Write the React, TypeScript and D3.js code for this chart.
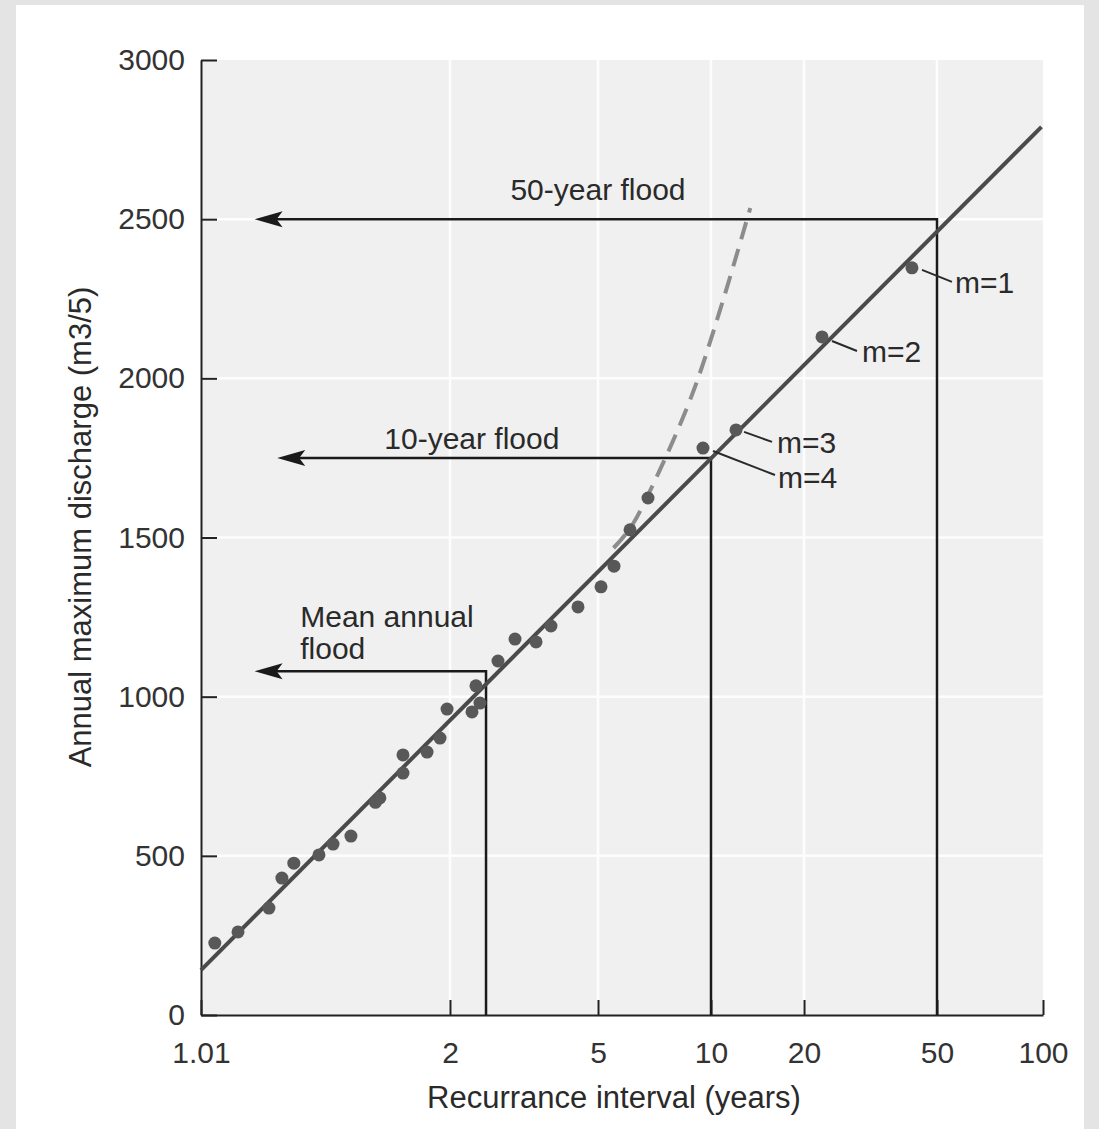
import { useEffect, useRef } from "react";
import * as d3 from "d3";

// probability-paper ticks (recurrence interval, years)
const xTicks = [1.01, 2, 5, 10, 20, 50, 100];
const xTickLabels = ["1.01", "2", "5", "10", "20", "50", "100"];
// the printed paper is hand ruled: where each tick falls along the axis (0..1)
const paperStops = [0, 0.2957, 0.4715, 0.6057, 0.7162, 0.8741, 1];
const yTicks = [0, 500, 1000, 1500, 2000, 2500, 3000];

// annual peak series: recurrence interval (yr) and discharge
const peakT = [
  1.049, 1.118, 1.217, 1.261, 1.303, 1.396, 1.451, 1.524, 1.63, 1.65, 1.758, 1.758, 1.878, 1.946, 1.984,
  2.292, 2.408, 2.349, 2.692, 2.991, 3.407, 3.737, 4.418, 5.093, 5.515, 6.085, 6.795, 9.52, 12.05, 22.64,
  42.08,
];
const peakQ = [
  226, 261, 336, 430, 477, 503, 537, 562, 668, 682, 760, 817, 826, 870, 961, 952, 980, 1034, 1112, 1181,
  1172, 1222, 1282, 1345, 1410, 1524, 1624, 1781, 1838, 2130, 2347,
];

// fitted frequency line
const fitT = [1.01, 99];
const fitQ = [141, 2790];

// steeper dashed trend
const dashT = [5.5, 6.1, 7.0, 8.9, 10.7, 13.4];
const dashQ = [1467, 1530, 1665, 1948, 2215, 2535];

// flood read-offs
const floodLabels = ["50-year flood", "10-year flood", "Mean annual\nflood"];
const floodT = [50, 10, 2.5];
const floodQ = [2500, 1750, 1080];
const floodTipT = [1.17, 1.245, 1.17];
const floodLabelT = [5, 2.29, 1.326];

// rank labels for the largest peaks
const rankLabels = [1, 2, 3, 4];

const font = "'Liberation Sans', Arial, Helvetica, sans-serif";

export default function App() {
  const ref = useRef<SVGSVGElement>(null);

  useEffect(() => {
    if (!ref.current) return;
    const w = 1099,
      h = 1129,
      plot = { left: 201, right: 1043, top: 60, bottom: 1015 };

    const svg = d3.select(ref.current);
    svg.selectAll("*").remove();
    svg.attr("width", w).attr("height", h).attr("viewBox", `0 0 ${w} ${h}`);

    svg.append("rect").attr("width", w).attr("height", h).attr("fill", "#e4e4e4");
    svg.append("rect").attr("x", 16).attr("y", 5).attr("width", 1068).attr("height", 1124).attr("fill", "#fff");

    const xl = d3
      .scaleLinear()
      .domain(xTicks.map(Math.log10))
      .range(paperStops.map((f) => plot.left + f * (plot.right - plot.left)));
    const x = (t: number) => xl(Math.log10(t));
    const y = d3.scaleLinear().domain([0, 3000]).range([plot.bottom, plot.top]);

    // tinted paper + white ruling
    svg
      .append("rect")
      .attr("x", plot.left)
      .attr("y", plot.top)
      .attr("width", plot.right - plot.left)
      .attr("height", plot.bottom - plot.top)
      .attr("fill", "#f0f0f0");

    const grid = svg.append("g").attr("stroke", "#fdfdfd").attr("stroke-width", 2.5);
    grid
      .selectAll("line.h")
      .data(yTicks.slice(1, -1))
      .join("line")
      .attr("x1", plot.left)
      .attr("x2", plot.right)
      .attr("y1", (d) => y(d))
      .attr("y2", (d) => y(d));
    grid
      .selectAll("line.v")
      .data(xTicks.slice(1, -1))
      .join("line")
      .attr("x1", (d) => x(d))
      .attr("x2", (d) => x(d))
      .attr("y1", plot.top)
      .attr("y2", plot.bottom);

    // axes
    const yAxis = svg
      .append("g")
      .attr("transform", `translate(${plot.left},0)`)
      .call(
        d3
          .axisLeft(y)
          .tickValues(yTicks)
          .tickFormat(d3.format("d"))
          .tickSize(-16)
          .tickSizeOuter(0)
          .tickPadding(16)
      );
    const xAxis = svg
      .append("g")
      .attr("transform", `translate(0,${plot.bottom})`)
      .call(
        d3
          .axisBottom(xl)
          .tickValues(xTicks.map(Math.log10))
          .tickFormat((_d, i) => xTickLabels[i])
          .tickSize(-15)
          .tickSizeOuter(0)
          .tickPadding(27)
      );
    [yAxis, xAxis].forEach((a) => {
      a.select(".domain").attr("stroke", "#222").attr("stroke-width", 2);
      a.selectAll(".tick line").attr("stroke", "#222").attr("stroke-width", 2);
      a.selectAll(".tick text").attr("fill", "#333").attr("font-size", 30).attr("font-family", font);
    });

    // flood read-off lines
    const fl = svg.append("g");
    floodT.forEach((t, i) => {
      const xv = x(t),
        yv = y(floodQ[i]),
        tip = x(floodTipT[i]);
      fl.append("path")
        .attr("d", `M${xv},${y(0)}V${yv}H${tip + 20}`)
        .attr("fill", "none")
        .attr("stroke", "#1a1a1a")
        .attr("stroke-width", 2.5);
      fl.append("path")
        .attr("d", `M${tip},${yv}L${tip + 28},${yv - 8}L${tip + 22},${yv}L${tip + 28},${yv + 8}Z`)
        .attr("fill", "#1a1a1a");
    });

    // dashed trend
    svg
      .append("path")
      .datum(dashT.map((t, i) => [x(t), y(dashQ[i])] as [number, number]))
      .attr("d", d3.line().curve(d3.curveCatmullRom))
      .attr("fill", "none")
      .attr("stroke", "#8c8c8c")
      .attr("stroke-width", 4)
      .attr("stroke-dasharray", "18 10");

    // fitted line
    svg
      .append("path")
      .datum(fitT.map((t, i) => [x(t), y(fitQ[i])] as [number, number]))
      .attr("d", d3.line())
      .attr("fill", "none")
      .attr("stroke", "#4a4a4a")
      .attr("stroke-width", 4);

    // peaks
    svg
      .append("g")
      .selectAll("circle")
      .data(peakT.map((t, i) => ({ t, q: peakQ[i] })))
      .join("circle")
      .attr("cx", (d) => x(d.t))
      .attr("cy", (d) => y(d.q))
      .attr("r", 6.5)
      .attr("fill", "#585858");

    // flood labels
    floodLabels.forEach((lab, i) => {
      const lines = lab.split("\n");
      const multi = lines.length > 1;
      const baseDy = i === 0 ? -19 : i === 1 ? -9 : -12;
      const t = svg
        .append("text")
        .attr("x", x(floodLabelT[i]))
        .attr("y", y(floodQ[i]) + baseDy - (lines.length - 1) * 32)
        .attr("text-anchor", multi ? "start" : "middle")
        .attr("font-family", font)
        .attr("font-size", 30)
        .attr("fill", "#2a2a2a");
      lines.forEach((ln, j) => {
        t.append("tspan").attr("x", x(floodLabelT[i])).attr("dy", j === 0 ? 0 : 32).text(ln);
      });
    });

    // rank (m) labels on the largest peaks
    const ranked = peakT
      .map((t, i) => ({ t, q: peakQ[i] }))
      .sort((a, b) => b.q - a.q);
    const rankLayout = [
      { lead: [10, 2, 40, 14], text: [43, 25] },
      { lead: [10, 4, 35, 14], text: [40, 25] },
      { lead: [8, 2, 36, 12], text: [41, 23] },
      { lead: [10, 3, 72, 27], text: [75, 40] },
    ];
    rankLabels.forEach((m, i) => {
      const p = ranked[m - 1];
      const px = x(p.t),
        py = y(p.q),
        L = rankLayout[i];
      svg
        .append("line")
        .attr("x1", px + L.lead[0])
        .attr("y1", py + L.lead[1])
        .attr("x2", px + L.lead[2])
        .attr("y2", py + L.lead[3])
        .attr("stroke", "#2a2a2a")
        .attr("stroke-width", 2);
      svg
        .append("text")
        .attr("x", px + L.text[0])
        .attr("y", py + L.text[1])
        .attr("font-family", font)
        .attr("font-size", 30)
        .attr("fill", "#2a2a2a")
        .text(`m=${m}`);
    });

    // axis titles
    svg
      .append("text")
      .attr("x", 614)
      .attr("y", 1108)
      .attr("text-anchor", "middle")
      .attr("font-family", font)
      .attr("font-size", 31)
      .attr("fill", "#2a2a2a")
      .text("Recurrance interval (years)");
    svg
      .append("text")
      .attr("transform", "translate(91,527) rotate(-90)")
      .attr("text-anchor", "middle")
      .attr("font-family", font)
      .attr("font-size", 31)
      .attr("fill", "#2a2a2a")
      .text("Annual maximum discharge (m3/5)");
  }, []);

  return <svg ref={ref} style={{ position: "absolute", left: 0, top: 0, display: "block" }} />;
}
